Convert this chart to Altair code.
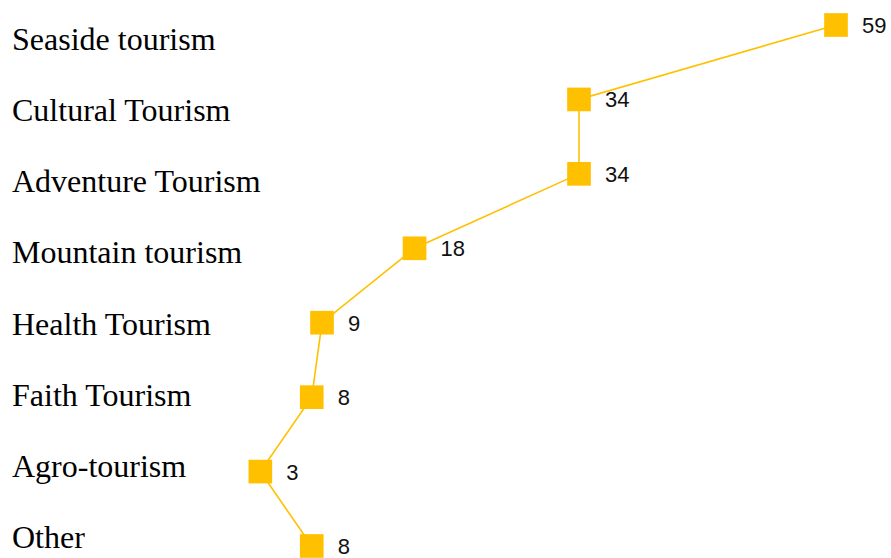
import altair as alt
import pandas as pd

categories = ["Seaside tourism", "Cultural Tourism", "Adventure Tourism", "Mountain tourism",
              "Health Tourism", "Faith Tourism", "Agro-tourism", "Other"]
values = [59, 34, 34, 18, 9, 8, 3, 8]
order = list(range(len(categories)))

df = pd.DataFrame({"category": categories, "value": values, "order": order})

base = alt.Chart(df)
x = alt.X("value:Q", scale=alt.Scale(domain=[0, 59], nice=False, zero=True), axis=None)
y = alt.Y("category:N", sort=categories, scale=alt.Scale(type="point", padding=0), axis=None)

line = base.mark_line(color="#FFC000", strokeWidth=1.6).encode(x=x, y=y, order="order:Q")
pts = base.mark_point(shape="square", filled=True, size=560, color="#FFC000", opacity=1).encode(x=x, y=y)
vals = base.mark_text(align="left", baseline="middle", dx=26, dy=1, font="Liberation Sans",
                      fontSize=22, color="#111111").encode(x=x, y=y, text="value:Q")
labels = base.mark_text(align="left", baseline="alphabetic", font="Liberation Serif",
                        fontSize=32, color="#000000").encode(
    x=alt.value(-217.5),
    y=alt.Y("category:N", sort=categories,
            scale=alt.Scale(type="point", padding=0, range=[25, 523]), axis=None),
    text="category:N")

chart = alt.layer(line, pts, vals, labels).resolve_scale(y="independent").properties(
    width=606.5, height=521,
    padding={"left": 229.5, "top": 25, "right": 54.5, "bottom": 12},
    autosize=alt.AutoSizeParams(type="none"),
    background="white",
).configure_view(stroke=None)

chart.save("out.html", embed_options={"renderer": "svg", "actions": False})
